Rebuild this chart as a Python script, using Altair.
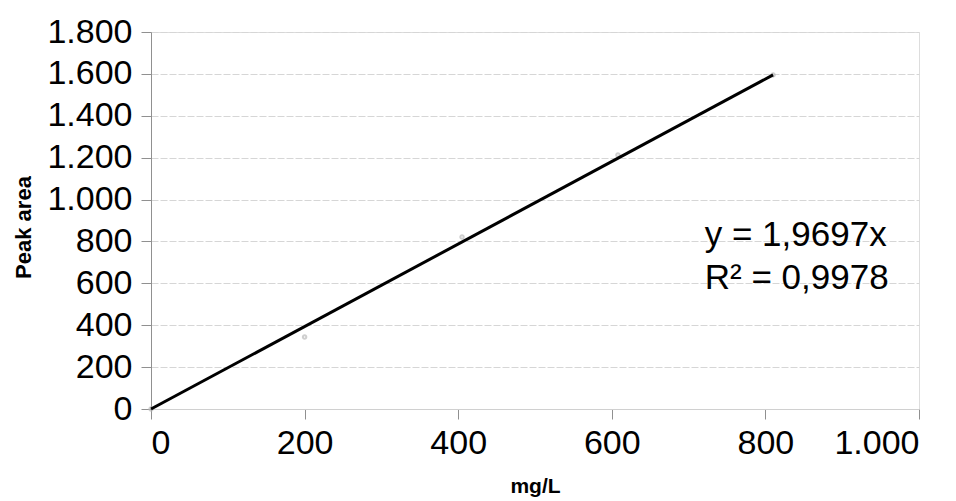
import altair as alt
import pandas as pd

# measured points (mg/L vs peak area)
conc = [0, 200, 405, 608, 810]
area = [0, 344, 821, 1213, 1595]
# trendline end points (y = 1,9697x through origin)
trend_x = [0, 810]
trend_y = [0, 1595]
y_ticks = [0, 200, 400, 600, 800, 1000, 1200, 1400, 1600, 1800]
x_ticks = [0, 200, 400, 600, 800, 1000]
eq_lines = ["y = 1,9697x", "R² = 0,9978"]
eq_x = [721, 721]
eq_y = [831, 625]

FONT = "Liberation Sans"
fmt = "replace(format(datum.value, ','), ',', '.')"

pts = pd.DataFrame({"x": conc, "y": area})
trend = pd.DataFrame({"x": trend_x, "y": trend_y})
ann = pd.DataFrame({"x": eq_x, "y": eq_y, "t": eq_lines})

xs = alt.Scale(domain=[0, 1000], nice=False, zero=True)
ys = alt.Scale(domain=[0, 1800], nice=False, zero=True)

xaxis = alt.Axis(values=x_ticks, labelExpr=fmt, title="mg/L", grid=False,
                 domainColor="#d0d0d0", tickColor="#909090", tickSize=10,
                 labelFontSize=34, labelFont=FONT, labelColor="#000",
                 labelPadding=7, titleFont=FONT, titleFontSize=21,
                 titleFontWeight="bold", titleColor="#000",
                 titleY=77, titleBaseline="middle")
yaxis = alt.Axis(values=y_ticks, labelExpr=fmt, title="Peak area", grid=True,
                 gridColor="#d6d6d6", gridDash=[7, 2], domainColor="#909090",
                 tickColor="#909090", tickSize=10, labelFontSize=34,
                 labelFont=FONT, labelColor="#000", labelPadding=9,
                 titleFont=FONT, titleFontSize=22, titleFontWeight="bold",
                 titleColor="#000", titleX=-128, titleY=195, titleAngle=270,
                 titleAlign="center", titleBaseline="middle")

base_pts = alt.Chart(pts).mark_point(size=12, color="#bbbbbb", opacity=0.7,
                                     filled=False).encode(
    x=alt.X("x:Q", scale=xs, axis=xaxis),
    y=alt.Y("y:Q", scale=ys, axis=yaxis),
)

line = alt.Chart(trend).mark_line(color="#000", strokeWidth=3).encode(
    x=alt.X("x:Q", scale=xs),
    y=alt.Y("y:Q", scale=ys),
)

text = alt.Chart(ann).mark_text(align="left", baseline="middle", fontSize=35,
                                font=FONT, color="#000").encode(
    x=alt.X("x:Q", scale=xs),
    y=alt.Y("y:Q", scale=ys),
    text="t:N",
)

chart = alt.layer(base_pts, line, text).properties(
    width=768, height=377,
    autosize=alt.AutoSizeParams(type="none"),
    padding={"left": 143, "top": 24, "right": 29, "bottom": 92},
).configure_view(stroke=None).configure(background="#ffffff")

chart.save("out.html", embed_options={"renderer": "svg", "actions": False})
